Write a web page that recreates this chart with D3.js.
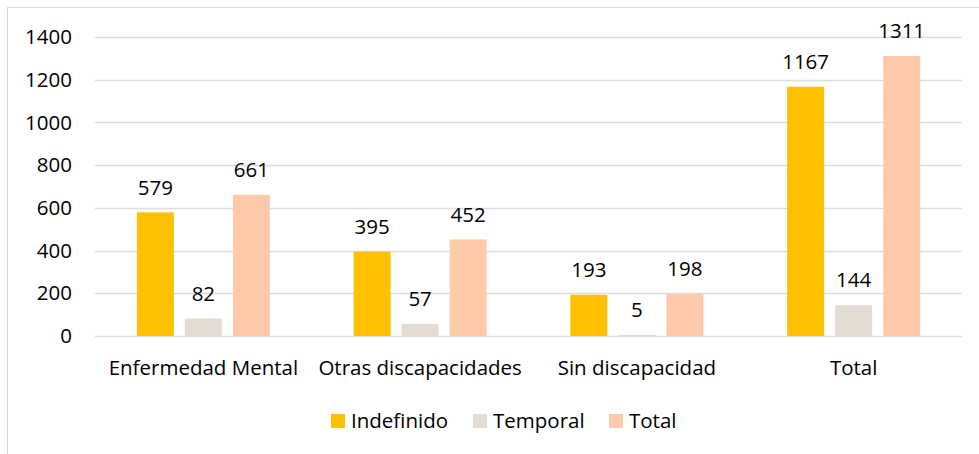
<!DOCTYPE html>
<html>
<head>
<meta charset="utf-8">
<script src="https://cdn.jsdelivr.net/npm/d3@7"></script>
<style>
body{margin:0;background:#fff;}
text{font-family:"Open Sans","Noto Sans",sans-serif;fill:#000;}
</style>
</head>
<body>
<svg width="979" height="454"></svg>
<script>
const categories=["Enfermedad Mental","Otras discapacidades","Sin discapacidad","Total"];
const seriesNames=["Indefinido","Temporal","Total"];
const indefinido=[579,395,193,1167];
const temporal=[82,57,5,144];
const total=[661,452,198,1311];
const yTicks=[0,200,400,600,800,1000,1200,1400];
const colors=["#FFC000","#E2DCD3","#FFCAAA"];
const fs="20.5px";

const svg=d3.select("svg");
const values=[indefinido,temporal,total];

// chart border
svg.append("rect").attr("x",7.5).attr("y",7.5).attr("width",1000).attr("height",500)
   .attr("fill","none").attr("stroke","#D9D9D9");

const x=d3.scaleBand().domain(categories).range([95,962]);
const xi=d3.scaleBand().domain(seriesNames).range([-66.5,66.5]).paddingInner(0.23).paddingOuter(0);
const y=d3.scaleLinear().domain([0,1400]).range([336,37]);

const g=svg.append("g");
// grid
g.selectAll("line.grid").data(yTicks).enter().append("line")
 .attr("x1",95).attr("x2",962)
 .attr("y1",d=>Math.round(y(d))+0.5).attr("y2",d=>Math.round(y(d))+0.5)
 .attr("stroke","#D9DEE2").attr("stroke-width",1.3);

// y labels
g.selectAll("text.ytick").data(yTicks).enter().append("text")
 .attr("x",72).attr("y",d=>y(d)).attr("dy","0.35em")
 .attr("text-anchor","end").style("font-size",fs).text(d=>d);

// bars
seriesNames.forEach((s,si)=>{
  const grp=g.append("g");
  grp.selectAll("rect").data(categories).enter().append("rect")
     .attr("x",d=>x(d)+x.bandwidth()/2+xi(s))
     .attr("y",(d,i)=>y(values[si][i]))
     .attr("width",xi.bandwidth())
     .attr("height",(d,i)=>y(0)-y(values[si][i]))
     .attr("fill",colors[si]);
  grp.selectAll("text").data(categories).enter().append("text")
     .attr("x",d=>x(d)+x.bandwidth()/2+xi(s)+xi.bandwidth()/2)
     .attr("y",(d,i)=>y(values[si][i])-25).attr("dy","0.35em")
     .attr("text-anchor","middle").style("font-size",fs)
     .text((d,i)=>values[si][i]);
});

// category labels
g.selectAll("text.cat").data(categories).enter().append("text")
 .attr("x",d=>x(d)+x.bandwidth()/2).attr("y",368).attr("dy","0.35em")
 .attr("text-anchor","middle").style("font-size",fs).text(d=>d);

// legend
const legX=[331,473,609];
const leg=svg.append("g").selectAll("g").data(seriesNames).enter().append("g")
 .attr("transform",(d,i)=>"translate("+legX[i]+",414)");
leg.append("rect").attr("width",14).attr("height",14).attr("fill",(d,i)=>colors[i]);
leg.append("text").attr("x",20).attr("y",7).attr("dy","0.35em")
 .style("font-size",fs).text(d=>d);
</script>
</body>
</html>
